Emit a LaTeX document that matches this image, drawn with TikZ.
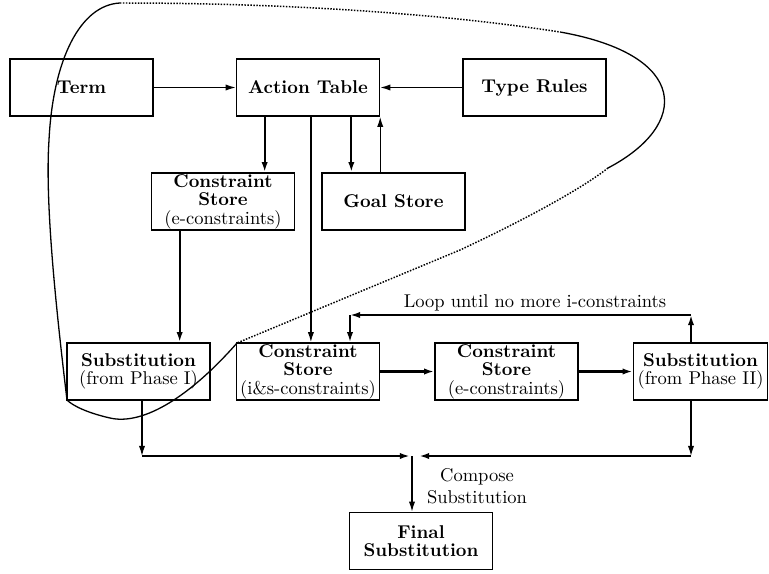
\documentclass[tikz,border=0pt]{standalone}
\usepackage{tikz}
\usetikzlibrary{arrows.meta, positioning, calc}

\begin{document}
\begin{tikzpicture}[x=0.54pt, y=-0.54pt, >={Latex[length=5.5pt,width=3.4pt]},
    box/.style={draw, line width=0.8pt, minimum width=77.2pt, minimum height=30.8pt,
      inner sep=0.5pt, align=center, font=\fontsize{10}{10}\selectfont},
    flow/.style={->, line width=0.7pt},
    heavy/.style={->, line width=1.2pt},
    loopline/.style={->, line width=1pt},
    phase/.style={line width=0.7pt},
    faint/.style={line width=0.8pt, dash pattern=on 0.8pt off 0.8pt}]

      % --- Frame ---
      \useasboundingbox (0,0) rectangle (769,573);

      % --- Boxes, top row ---
      \node[box] (term)   at (81.5,87.5)  {\textbf{Term}};
      \node[box] (action) at (308,87.5)   {\textbf{Action Table}};
      \node[box] (rules)  at (534.5,87.5) {\textbf{Type Rules}};

      % --- Boxes, second row ---
      \node[box] (cse)  at (223,201.5)   {\textbf{Constraint}\\\textbf{Store}\\(e-constraints)};
      \node[box] (goal) at (393.5,201.5) {\textbf{Goal Store}};

      % --- Boxes, third row ---
      \node[box] (subI)  at (138.5,371.5) {\textbf{Substitution}\\(from Phase I)};
      \node[box] (csis)  at (308,371.5)   {\textbf{Constraint}\\\textbf{Store}\\(i\&s-constraints)};
      \node[box] (cseII) at (506.5,371.5) {\textbf{Constraint}\\\textbf{Store}\\(e-constraints)};
      \node[box, minimum width=72.4pt] (subII) at (700.5,371.5) {\textbf{Substitution}\\(from Phase II)};

      % --- Result ---
      \node[box] (final) at (421,541) {\textbf{Final}\\\textbf{Substitution}};

      % --- Top row arrows ---
      \draw[flow] (term) -- (action);
      \draw[flow] (rules) -- (action);

      \draw[heavy] ($(action.south west)!0.2!(action.south east)$) coordinate (a1) -- (a1 |- cse.north);
      \draw[heavy] ($(action.south west)!0.8!(action.south east)$) coordinate (a2) -- (a2 |- goal.north);
      \draw[flow] (goal.north -| action.south east) -- (action.south east);
      \draw[flow] ($(action.south west)!0.52!(action.south east)$) coordinate (a3) -- (a3 |- csis.north);

      % --- Down to Phase I substitution ---
      \draw[heavy] ($(cse.south west)!0.2!(cse.south east)$) coordinate (c1) -- (c1 |- subI.north);

      % --- Phase II chain ---
      \draw[heavy] (csis) -- (cseII);
      \draw[heavy] (cseII) -- (subII);

      % --- Loop back ---
      \coordinate (loopR) at (691,315);
      \coordinate (loopL) at (350,315);
      \draw[loopline] (subII.north -| loopR) -- (loopR);
      \draw[loopline] (loopR) -- (loopL);
      \draw[loopline] (loopL) -- (loopL |- csis.north);
      \node[anchor=south, inner sep=1pt] (looptext) at (535,313) {Loop until no more i-constraints};

      % --- Composition ---
      \coordinate (jL) at (142,456);
      \coordinate (jR) at (691,456);
      \coordinate (jM) at (412,456);
      \draw[flow] (subI.south -| jL) -- (jL);
      \draw[flow] (subII.south -| jR) -- (jR);
      \draw[heavy] (jL) -- (410,456);
      \draw[heavy] (jR) -- (419,456);
      \draw[flow] (jM) -- (jM |- final.north);
      \node[align=center, font=\fontsize{10}{11.9}\selectfont] (compose) at (477,486) {Compose\\Substitution};

      % --- Phase I outline ---
      \draw[phase] (237,343) .. controls (185,402) and (140,425) .. (110,418)
        .. controls (88,413) and (73,406) .. (67,400)
        .. controls (55,300) and (45,200) .. (49,140)
        .. controls (53,60) and (80,5) .. (120,3);
      \draw[faint] (120,3) .. controls (300,3) and (450,15) .. (560,32);
      \draw[phase] (560,32) .. controls (690,55) and (690,125) .. (608,168);
      \draw[faint] (608,168) .. controls (580,190) and (520,222) .. (460,250) -- (237,343);

    \end{tikzpicture}
\end{document}
